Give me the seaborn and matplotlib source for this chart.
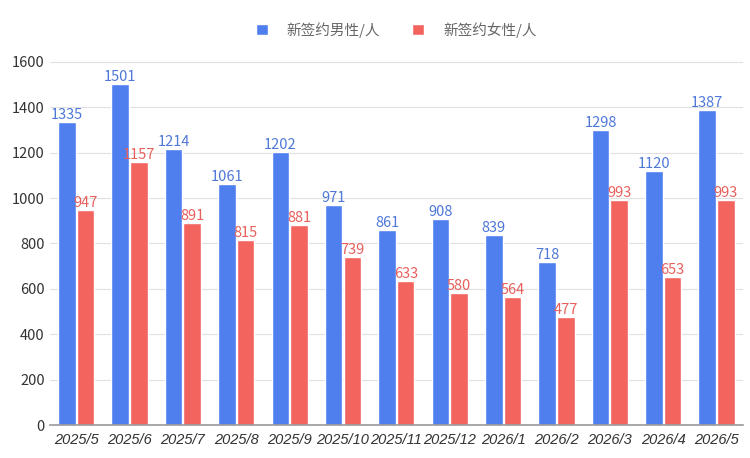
import matplotlib
matplotlib.use("Agg")
import matplotlib.pyplot as plt
import seaborn as sns
import pandas as pd

months = ["2025/5", "2025/6", "2025/7", "2025/8", "2025/9", "2025/10", "2025/11",
          "2025/12", "2026/1", "2026/2", "2026/3", "2026/4", "2026/5"]
male = [1335, 1501, 1214, 1061, 1202, 971, 861, 908, 839, 718, 1298, 1120, 1387]
female = [947, 1157, 891, 815, 881, 739, 633, 580, 564, 477, 993, 653, 993]
series_names = ["新签约男性/人", "新签约女性/人"]

sns.set_theme(style="white")
plt.rcParams['font.family'] = ['Noto Sans CJK SC', 'DejaVu Sans']

df = pd.DataFrame({
    "month": months * 2,
    "value": male + female,
    "series": [series_names[0]] * len(months) + [series_names[1]] * len(months),
})

colors = ["#4F7FEF", "#F4645F"]
label_colors = ["#4F78D8", "#E8605C"]

fig = plt.figure(figsize=(7.5, 4.58), dpi=100)
ax = fig.add_axes([0.066, 0.072, 0.925, 0.793])

sns.barplot(data=df, x="month", y="value", hue="series", palette=colors,
            width=0.7, gap=0.06, ax=ax, saturation=1, legend=True)

for cont, lc in zip(ax.containers, label_colors):
    ax.bar_label(cont, labels=[f"{int(v)}" for v in cont.datavalues],
                 color=lc, fontsize=10.5, padding=0)

ax.set_ylim(0, 1600)
ax.set_yticks(range(0, 1601, 200))
ax.set_xlim(-0.5, len(months) - 0.5)
ax.set_xlabel("")
ax.set_ylabel("")
ax.grid(axis="y", color="#E0E0E0", linewidth=0.8)
ax.set_axisbelow(True)
for s in ["left", "right", "top"]:
    ax.spines[s].set_visible(False)
ax.spines["bottom"].set_color("#999999")
ax.spines["bottom"].set_linewidth(1.2)
ax.tick_params(axis="both", length=0, labelsize=10.5, colors="#333333")
ax.tick_params(axis="x", pad=6)
for t in ax.get_xticklabels():
    t.set_family(["Liberation Sans", "DejaVu Sans"])
    t.set_fontstyle("italic")
    t.set_fontsize(10.5)

leg = ax.legend(loc="center", bbox_to_anchor=(0.5, 1.088), ncol=2,
                frameon=False, fontsize=10.5, handlelength=0.8, handleheight=0.8,
                columnspacing=2.2, handletextpad=1.3)
for t in leg.get_texts():
    t.set_color("#666666")

fig.savefig("out.png", dpi=100)
